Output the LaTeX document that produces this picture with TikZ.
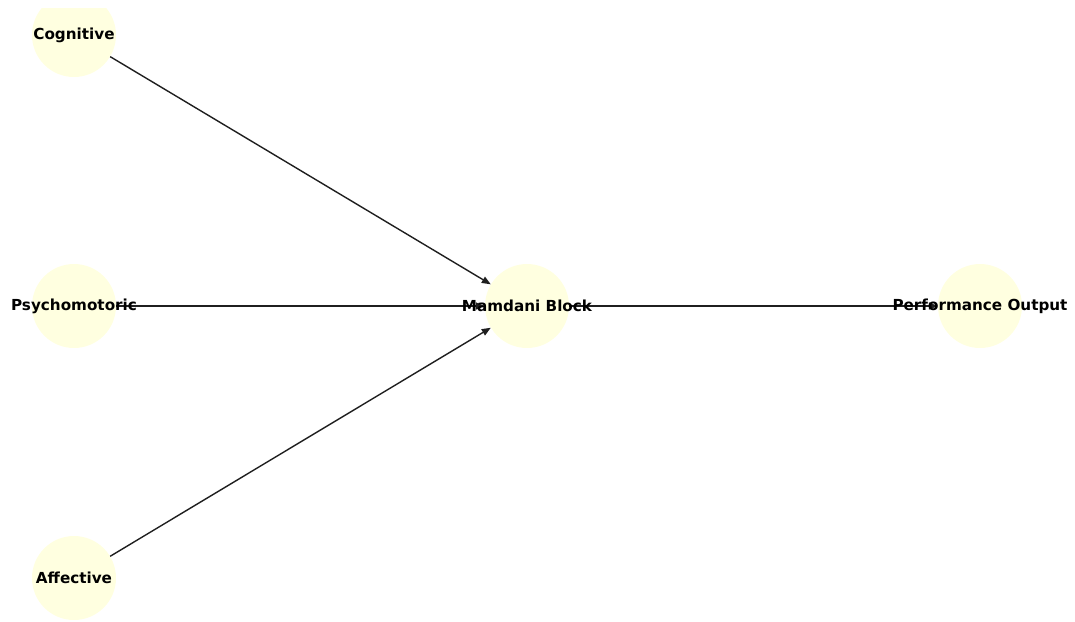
\documentclass[tikz,border=0pt]{standalone}
\usepackage{fontspec}
\setmainfont{DejaVu Sans}
\usetikzlibrary{arrows.meta}
\definecolor{nodefill}{HTML}{FFFFE0}
\tikzset{
  vnode/.style={circle,fill=nodefill,minimum size=84pt,inner sep=0pt},
  vlabel/.style={font=\fontsize{15.2}{17}\selectfont\bfseries,inner sep=0pt},
  edge/.style={line width=1.4pt,draw=black!88,-{Triangle[length=9pt,width=7pt]}}
}
\begin{document}
\begin{tikzpicture}[x=1pt,y=-1pt]
\useasboundingbox (0,0) rectangle (1075,621);
\begin{scope}
\clip (0,8) rectangle (1075,621);
\node[vnode] (cog) at (74,35) {};
\node[vnode] (psy) at (74,306) {};
\node[vnode] (aff) at (74,578) {};
\node[vnode] (mam) at (527,306) {};
\node[vnode] (perf) at (980,306) {};
\end{scope}
\draw[edge] (cog) -- (mam);
\draw[edge] (psy) -- (mam);
\draw[edge] (aff) -- (mam);
\draw[edge] (mam) -- (perf);
\node[vlabel] (tcog) at (cog.center) {Cognitive};
\node[vlabel] (tpsy) at (psy.center) {Psychomotoric};
\node[vlabel] (taff) at (aff.center) {Affective};
\node[vlabel] (tmam) at (mam.center) {Mamdani Block};
\node[vlabel] (tperf) at (perf.center) {Performance Output};
\end{tikzpicture}
\end{document}
